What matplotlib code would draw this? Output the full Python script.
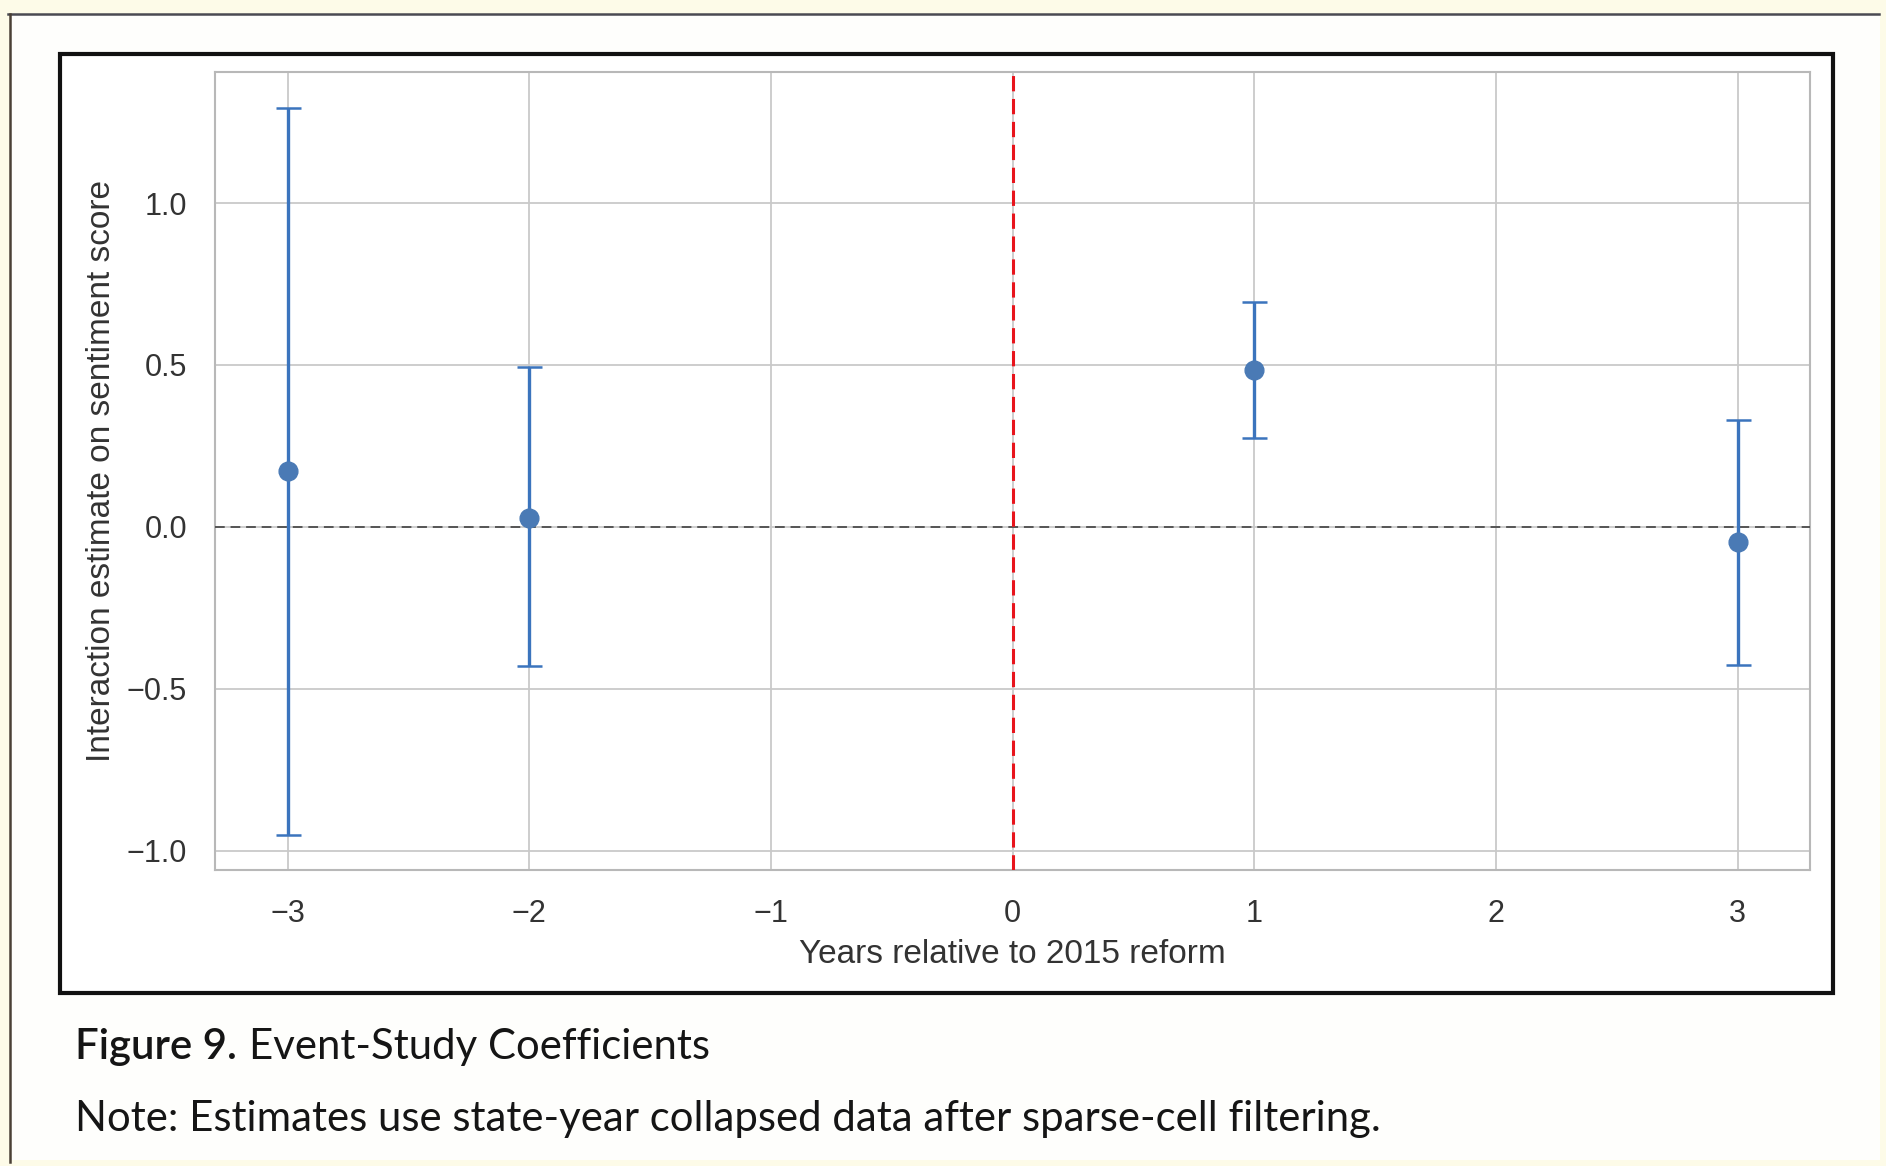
import matplotlib
matplotlib.use('Agg')
import matplotlib.pyplot as plt
from matplotlib.patches import Rectangle
from matplotlib.lines import Line2D

# event-study estimates
years = [-3, -2, 1, 3]
coefs = [0.171, 0.026, 0.483, -0.048]
ci_low = [-0.952, -0.431, 0.275, -0.428]
ci_high = [1.294, 0.494, 0.695, 0.331]
xticks = [-3, -2, -1, 0, 1, 2, 3]
yticks = [-1.0, -0.5, 0.0, 0.5, 1.0]

plt.rcParams['font.family'] = ['Liberation Sans', 'DejaVu Sans']

W, H = 1886, 1166
fig = plt.figure(figsize=(W / 100, H / 100), dpi=100)
fig.patch.set_facecolor('#fdfbe8')

# page background + page frame (top and left edges visible)
fig.patches.append(Rectangle((10 / W, 1 - 1160 / H), 1870 / W, 1146 / H,
                             transform=fig.transFigure, facecolor='#fefefc',
                             edgecolor='none', zorder=0))
fig.lines.append(Line2D([8 / W, 1879 / W], [1 - 14 / H, 1 - 14 / H],
                        transform=fig.transFigure, color='#4a4a52', lw=1.8))
fig.lines.append(Line2D([10 / W, 10 / W], [1 - 14 / H, 1 - 1162 / H],
                        transform=fig.transFigure, color='#4a4036', lw=1.8))

# black chart frame
fig.patches.append(Rectangle((60 / W, 1 - 993 / H), 1773 / W, 939 / H,
                             transform=fig.transFigure, facecolor='white',
                             edgecolor='#111111', lw=3, zorder=1))

ax = fig.add_axes([215 / W, 1 - 870 / H, 1595 / W, 798 / H])
ax.set_facecolor('white')
ax.set_zorder(2)

yerr = [[c - l for c, l in zip(coefs, ci_low)],
        [h - c for c, h in zip(coefs, ci_high)]]
ax.errorbar(years, coefs, yerr=yerr, fmt='o', color='#4a7ab5', ecolor='#3b74bd',
            elinewidth=2.4, capsize=9, capthick=1.8, markersize=13.5, zorder=4)

ax.axhline(0, color='#555555', lw=1.4, ls=(0, (5, 3)), zorder=3)
ax.axvline(0, color='#e8141c', lw=2.2, ls=(0, (5, 2.5)), zorder=3)

ax.set_xlim(-3.3, 3.3)
ax.set_ylim(-1.06, 1.405)
ax.set_xticks(xticks)
ax.set_xticklabels([str(t).replace('-', '\u2212') for t in xticks])
ax.set_yticks(yticks)
ax.set_yticklabels([f'{t:.1f}'.replace('-', '\u2212') for t in yticks])
ax.grid(True, color='#c9c9c9', lw=1.3)
ax.set_axisbelow(True)
for s in ax.spines.values():
    s.set_color('#b8b8b8')
    s.set_linewidth(1.5)
ax.tick_params(axis='both', length=0, labelsize=22, colors='#333333')
ax.tick_params(axis='x', pad=21)
ax.tick_params(axis='y', pad=20)

ax.set_xlabel('Years relative to 2015 reform', fontsize=24, color='#333333')
ax.set_ylabel('Interaction estimate on sentiment score', fontsize=24, color='#333333')
ax.xaxis.set_label_coords(0.5, -0.087)
ax.yaxis.set_label_coords(-0.0615, 0.5)

# caption below the frame
cap_font = ['Lato', 'DejaVu Sans']
t1 = fig.text(75 / W, 1 - 1047.5 / H, 'Figure 9.', fontsize=30.2, family=cap_font,
              weight='semibold', va='center', color='#151515')
fig.canvas.draw()
bb = t1.get_window_extent()
fig.text((bb.x1 + 12) / W, 1 - 1047.5 / H, 'Event-Study Coefficients', fontsize=30.2,
         family=cap_font, va='center', color='#151515')
fig.text(75 / W, 1 - 1119 / H,
         'Note: Estimates use state-year collapsed data after sparse-cell filtering.',
         fontsize=30.2, family=cap_font, va='center', color='#151515')

fig.savefig('out.png', dpi=100, facecolor=fig.get_facecolor())
